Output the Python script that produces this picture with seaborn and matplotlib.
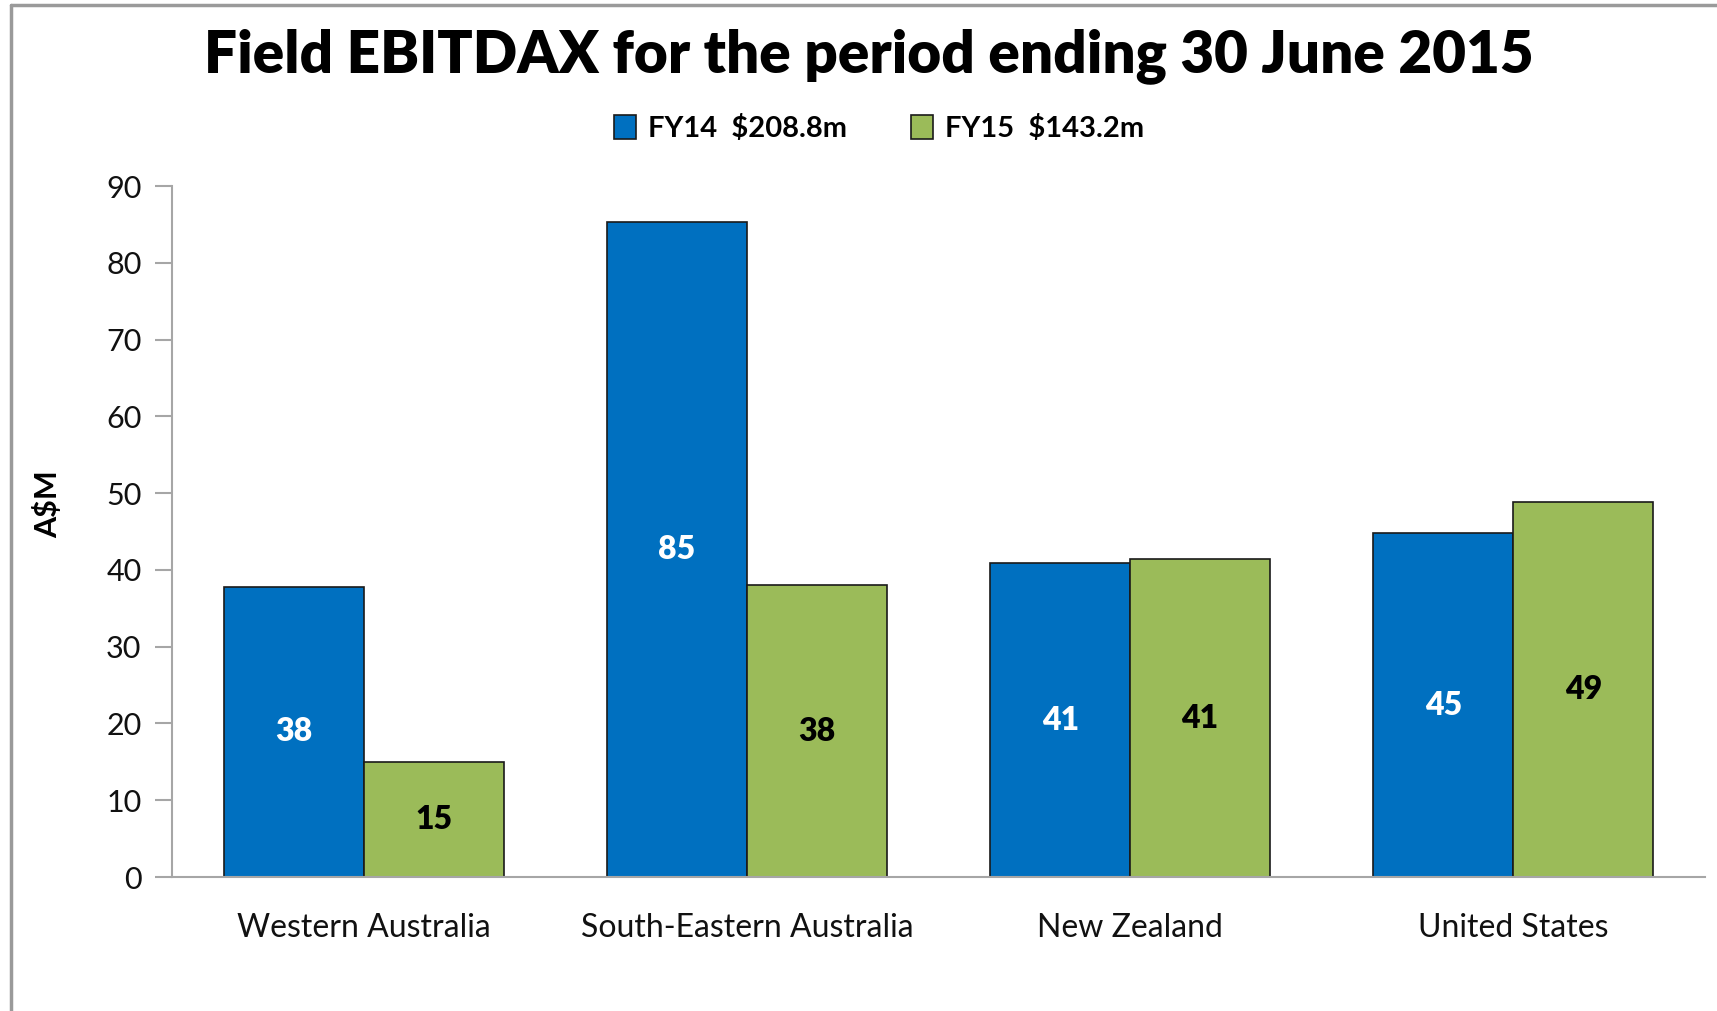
import matplotlib
matplotlib.use("Agg")
import matplotlib.pyplot as plt
from matplotlib.lines import Line2D
import pandas as pd
import seaborn as sns

regions = ["Western Australia", "South-Eastern Australia", "New Zealand", "United States"]
fy14 = [37.8, 85.3, 40.9, 44.8]
fy15 = [15.0, 38.0, 41.4, 48.8]
series = ["FY14  $208.8m", "FY15  $143.2m"]
colors = {"FY14  $208.8m": "#0070C0", "FY15  $143.2m": "#9BBB59"}
label_colors = ["white", "black"]
yticks = [0, 10, 20, 30, 40, 50, 60, 70, 80, 90]

df = pd.DataFrame({
    "region": regions * 2,
    "value": fy14 + fy15,
    "series": [series[0]] * len(regions) + [series[1]] * len(regions),
})

sns.set_theme(style="white")
plt.rcParams["font.family"] = ["Lato", "DejaVu Sans"]
plt.rcParams["text.color"] = "black"
plt.rcParams["axes.labelcolor"] = "black"

fig = plt.figure(figsize=(17.17, 10.11), dpi=100)
ax = fig.add_axes([0.1002, 0.1325, 0.8928, 0.6835])

sns.barplot(data=df, x="region", y="value", hue="series", palette=colors,
            width=0.73, edgecolor="#1a1a1a", linewidth=1.2, saturation=1,
            ax=ax)

for cont, lc in zip(ax.containers, label_colors):
    ax.bar_label(cont, labels=[f"{v:.0f}" for v in cont.datavalues],
                 label_type="center", color=lc, fontsize=23, fontweight="heavy")

ax.set_xlim(-0.5, 3.5)
ax.set_ylim(0, 90)
ax.set_yticks(yticks)
ax.tick_params(axis="y", length=12, width=1.5, color="#A6A6A6", labelsize=22,
               labelcolor="#111111", pad=10, left=True)
ax.tick_params(axis="x", length=0, labelsize=23, labelcolor="#111111", pad=26)
for s in ("top", "right"):
    ax.spines[s].set_visible(False)
for s in ("left", "bottom"):
    ax.spines[s].set_color("#A6A6A6")
    ax.spines[s].set_linewidth(1.5)
ax.set_xlabel("")
ax.set_ylabel("A$M", fontsize=22, fontweight="bold")
ax.yaxis.set_label_coords(-0.072, 0.54)

ax.get_legend().remove()
handles, labels = ax.get_legend_handles_labels()
fig.legend(handles, labels, loc="center", bbox_to_anchor=(0.512, 0.873), ncol=2,
           frameon=False, handlelength=0.75, handleheight=0.9, handletextpad=0.4,
           columnspacing=2.2, prop={"size": 21, "weight": "bold"})

fig.suptitle("Field EBITDAX for the period ending 30 June 2015", x=0.506, y=0.944,
             va="center", fontsize=42, fontweight="heavy", color="black")

# slide frame (left and top edges only, as cropped)
fig.add_artist(Line2D([0.0064, 0.0064], [0, 0.995], transform=fig.transFigure,
                      color="#9A9A9A", lw=2.5))
fig.add_artist(Line2D([0.0064, 1.0], [0.995, 0.995], transform=fig.transFigure,
                      color="#9A9A9A", lw=2.5))

fig.savefig("out.png", dpi=100)
plt.close(fig)
